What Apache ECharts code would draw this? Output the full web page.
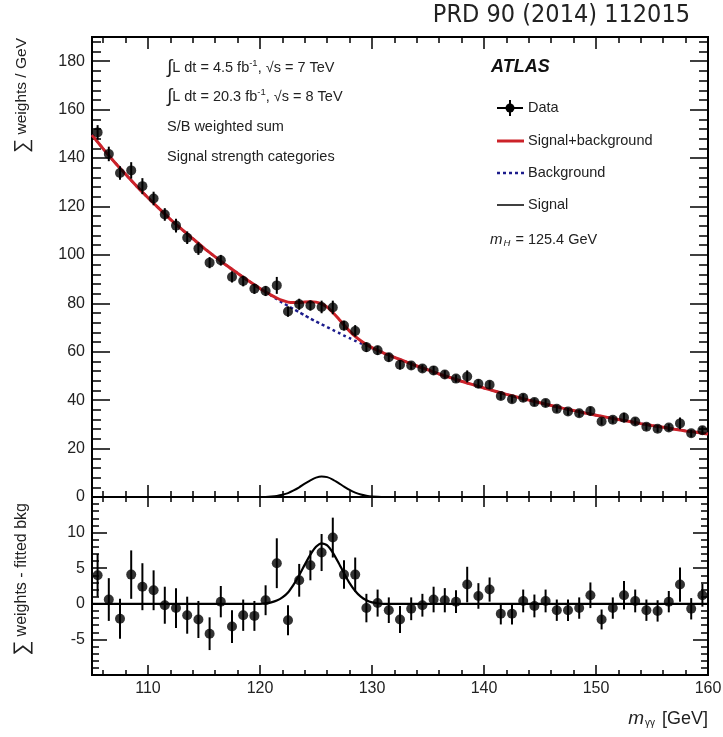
<!DOCTYPE html>
<html>
<head>
<meta charset="utf-8">
<title>Diphoton invariant mass, S/B weighted sum</title>
<script src="https://cdn.jsdelivr.net/npm/echarts@6/dist/echarts.min.js"></script>
<style>
  html, body { margin: 0; padding: 0; background: #fff; }
  #chart { width: 723px; height: 737px; }
</style>
</head>
<body>
<div id="chart"></div>
<script>
// ---- data: 1 GeV bins of m_yy ----
const dataMass = [105.5,106.5,107.5,108.5,109.5,110.5,111.5,112.5,113.5,114.5,
  115.5,116.5,117.5,118.5,119.5,120.5,121.5,122.5,123.5,124.5,
  125.5,126.5,127.5,128.5,129.5,130.5,131.5,132.5,133.5,134.5,
  135.5,136.5,137.5,138.5,139.5,140.5,141.5,142.5,143.5,144.5,
  145.5,146.5,147.5,148.5,149.5,150.5,151.5,152.5,153.5,154.5,
  155.5,156.5,157.5,158.5,159.5];

// weighted events per GeV
const topData = [150.6,141.7,133.8,134.9,128.4,123.3,116.7,112.1,107.1,102.6,
  96.8,97.8,90.9,89.2,86.0,85.1,87.4,76.6,79.6,79.1,
  78.5,78.3,70.8,68.6,61.9,60.6,57.7,54.6,54.3,53.1,
  52.3,50.6,48.9,49.8,46.8,46.4,41.7,40.4,41.0,39.2,
  38.8,36.4,35.3,34.6,35.5,31.2,31.9,32.8,31.2,29.0,
  28.2,28.7,30.4,26.3,27.6];

// weighted events minus fitted background
const residual = [4.0,0.6,-2.1,4.1,2.4,1.9,-0.2,-0.6,-1.6,-2.2,
  -4.2,0.3,-3.2,-1.6,-1.7,0.5,5.7,-2.3,3.3,5.4,
  7.2,9.3,4.1,4.1,-0.6,0.1,-0.9,-2.2,-0.7,-0.2,
  0.6,0.5,0.3,2.7,1.1,2.0,-1.4,-1.4,0.4,-0.3,
  0.4,-0.9,-0.9,-0.6,1.2,-2.2,-0.6,1.2,0.4,-0.9,
  -1.0,0.3,2.7,-0.7,1.2];

// statistical uncertainty per bin
const statErr = [3.0,3.0,2.8,3.4,3.3,2.8,2.6,2.8,2.6,2.6,
  2.3,2.2,2.3,2.2,2.1,2.1,3.5,2.1,2.3,2.1,
  2.6,2.8,2.0,2.4,2.0,1.9,1.8,1.9,1.6,1.6,
  1.8,1.7,1.6,2.5,1.8,1.7,1.5,1.5,1.6,1.6,
  1.6,1.5,1.5,1.5,1.8,1.4,1.5,2.0,1.6,1.5,
  1.5,1.5,2.4,1.5,1.6];

// ---- fitted curves ----
const curveMass = [105,106,107,108,109,110,111,112,113,114,115,116,117,118,119,
  120,120.5,121,121.5,122,122.5,123,123.5,124,124.5,125,125.5,126,126.5,
  127,127.5,128,128.5,129,129.5,130,130.5,131,
  132,133,134,135,136,137,138,139,140,141,142,143,144,145,146,147,148,149,
  150,151,152,153,154,155,156,157,158,159,160];

const bkgCurve = [149.5,143.8,138.4,133.3,128.3,123.6,119.1,114.7,110.6,106.7,102.8,99.2,95.7,92.4,89.2,
  86.1,84.6,83.2,81.7,80.3,78.9,77.6,76.3,75.0,73.7,72.5,71.3,70.2,69.0,
  67.9,66.7,65.6,64.5,63.5,62.5,61.5,60.5,59.5,
  57.7,55.9,54.1,52.5,50.8,49.3,47.8,46.4,45.0,43.7,42.4,41.2,40.0,38.9,37.8,36.7,35.7,34.7,
  33.8,32.9,32.0,31.2,30.3,29.5,28.8,28.0,27.3,26.7,26.0];

const sbCurve = [149.5,143.8,138.4,133.3,128.3,123.6,119.1,114.7,110.6,106.7,102.8,99.2,95.7,92.4,89.2,
  86.1,84.7,83.4,82.2,81.2,80.5,80.3,80.3,80.5,80.6,80.5,79.8,78.4,76.2,
  73.7,71.0,68.5,66.3,64.5,63.0,61.7,60.6,59.5,
  57.7,55.9,54.1,52.5,50.8,49.3,47.8,46.4,45.0,43.7,42.4,41.2,40.0,38.9,37.8,36.7,35.7,34.7,
  33.8,32.9,32.0,31.2,30.3,29.5,28.8,28.0,27.3,26.7,26.0];

const sigCurve = [0,0,0,0,0,0,0,0,0,0,0,0,0,0,0,
  0.0,0.05,0.2,0.45,0.9,1.6,2.7,4.0,5.5,6.9,8.0,8.5,8.2,7.2,
  5.8,4.3,2.9,1.8,1.0,0.5,0.2,0.08,0.0,
  0,0,0,0,0,0,0,0,0,0,0,0,0,0,0,0,0,0,
  0,0,0,0,0,0,0,0,0,0,0];

// ---- axes ----
const massTicks = [110, 120, 130, 140, 150, 160];
const topTicks = [0, 20, 40, 60, 80, 100, 120, 140, 160, 180];
const lowTicks = [-10, -5, 0, 5, 10, 15];
const lowLabels = [-5, 0, 5, 10];

function minorTicks(lo, hi, step, major) {
  const out = [];
  for (let v = lo; v <= hi + 1e-9; v += step) {
    const r = Math.round(v * 1000) / 1000;
    if (Math.abs(r / major - Math.round(r / major)) > 1e-6) out.push(r);
  }
  return out;
}
const massMinor = minorTicks(106, 158, 2, 10);
const topMinor = minorTicks(4, 188, 4, 20);
const lowMinor = minorTicks(-9, 14, 1, 5);

const FONT = "'Liberation Sans', Arial, Helvetica, sans-serif";
const INK = '#222';

function axis(gridIndex, position, min, max, ticks, len, labels, labelMargin) {
  return {
    type: 'value', gridIndex, position, min, max,
    axisLine: { show: true, onZero: false, lineStyle: { color: '#000', width: 2 } },
    axisTick: { show: true, inside: true, length: len, customValues: ticks,
                lineStyle: { color: '#000', width: 1.5 } },
    axisLabel: labels ? {
      show: true, customValues: labels, margin: labelMargin,
      color: INK, fontFamily: FONT, fontSize: 16,
      showMinLabel: true, showMaxLabel: true, hideOverlap: false
    } : { show: false },
    splitLine: { show: false },
    minorTick: { show: false },
    minorSplitLine: { show: false }
  };
}

const xAxes = [
  axis(0, 'bottom', 105, 160, massTicks, 12, null),
  axis(0, 'bottom', 105, 160, massMinor, 6, null),
  axis(0, 'top', 105, 160, massTicks, 12, null),
  axis(0, 'top', 105, 160, massMinor, 6, null),
  axis(1, 'bottom', 105, 160, massTicks, 10, massTicks, 6),
  axis(1, 'bottom', 105, 160, massMinor, 5, null),
  axis(1, 'top', 105, 160, massTicks, 10, null),
  axis(1, 'top', 105, 160, massMinor, 5, null)
];
const yAxes = [
  axis(0, 'left', 0, 190, topTicks, 18, topTicks, 7),
  axis(0, 'left', 0, 190, topMinor, 9, null),
  axis(0, 'right', 0, 190, topTicks, 18, null),
  axis(0, 'right', 0, 190, topMinor, 9, null),
  axis(1, 'left', -10, 15, lowTicks, 15, lowLabels, 7),
  axis(1, 'left', -10, 15, lowMinor, 7, null),
  axis(1, 'right', -10, 15, lowTicks, 15, null),
  axis(1, 'right', -10, 15, lowMinor, 7, null)
];

// ---- series helpers ----
function pairs(xs, ys) { return xs.map((x, i) => [x, ys[i]]); }

function curve(name, xi, yi, ys, color, width, type, z) {
  return {
    name, type: 'line', xAxisIndex: xi, yAxisIndex: yi,
    data: pairs(curveMass, ys), showSymbol: false, symbol: 'none',
    smooth: 0.2, clip: true, z, silent: true,
    lineStyle: { color, width, type, cap: 'butt' }
  };
}

function errorBars(xi, yi, vals) {
  return {
    type: 'custom', xAxisIndex: xi, yAxisIndex: yi, z: 6, silent: true, clip: true,
    encode: { x: 0, y: [1, 2] },
    data: dataMass.map((m, i) => [m, vals[i] - statErr[i], vals[i] + statErr[i]]),
    renderItem(params, api) {
      const a = api.coord([api.value(0), api.value(1)]);
      const b = api.coord([api.value(0), api.value(2)]);
      return { type: 'line', shape: { x1: a[0], y1: a[1], x2: b[0], y2: b[1] },
               style: { stroke: '#000', lineWidth: 2 } };
    }
  };
}

function points(name, xi, yi, vals) {
  return {
    name, type: 'scatter', xAxisIndex: xi, yAxisIndex: yi, z: 7, silent: true,
    data: pairs(dataMass, vals), symbol: 'circle', symbolSize: 10,
    itemStyle: { color: '#000' }
  };
}

// ---- text ----
const txt = { fontFamily: FONT, fontSize: 14.5, fill: INK };
const lumiRich = {
  int: { fontFamily: FONT, fontSize: 19, fill: INK },
  t: { fontFamily: FONT, fontSize: 14.5, fill: INK },
  sup: { fontFamily: FONT, fontSize: 9.5, fill: INK, padding: [0, 0, 9, 0] }
};

const graphic = [
  { type: 'text', x: 690, y: 15,
    style: { text: 'PRD 90 (2014) 112015', fontFamily: "'DejaVu Sans Condensed', 'Liberation Sans Narrow', " + FONT,
             fontSize: 25, fill: INK, align: 'right', verticalAlign: 'middle' } },

  { type: 'text', x: 167, y: 68,
    style: { text: '{int|∫}{t|L dt = 4.5 fb}{sup|-1}{t|, √s = 7 TeV}', rich: lumiRich,
             align: 'left', verticalAlign: 'middle' } },
  { type: 'text', x: 167, y: 97,
    style: { text: '{int|∫}{t|L dt = 20.3 fb}{sup|-1}{t|, √s = 8 TeV}', rich: lumiRich,
             align: 'left', verticalAlign: 'middle' } },
  { type: 'text', x: 167, y: 127,
    style: Object.assign({ text: 'S/B weighted sum', align: 'left', verticalAlign: 'middle' }, txt) },
  { type: 'text', x: 167, y: 157,
    style: Object.assign({ text: 'Signal strength categories', align: 'left', verticalAlign: 'middle' }, txt) },

  { type: 'text', x: 491, y: 67,
    style: { text: 'ATLAS', fontFamily: FONT, fontSize: 18, fontWeight: 'bold', fontStyle: 'italic',
             fill: '#111', align: 'left', verticalAlign: 'middle' } },

  // legend: Data
  { type: 'line', shape: { x1: 497, y1: 108, x2: 523, y2: 108 }, style: { stroke: '#000', lineWidth: 2 } },
  { type: 'line', shape: { x1: 510, y1: 100, x2: 510, y2: 116 }, style: { stroke: '#000', lineWidth: 2 } },
  { type: 'circle', shape: { cx: 510, cy: 108, r: 4.5 }, style: { fill: '#000' } },
  { type: 'text', x: 528, y: 108,
    style: Object.assign({ text: 'Data', align: 'left', verticalAlign: 'middle' }, txt) },
  // legend: Signal+background
  { type: 'line', shape: { x1: 497, y1: 141, x2: 524, y2: 141 }, style: { stroke: '#cc2229', lineWidth: 3 } },
  { type: 'text', x: 528, y: 141,
    style: Object.assign({ text: 'Signal+background', align: 'left', verticalAlign: 'middle' }, txt) },
  // legend: Background
  { type: 'line', shape: { x1: 497, y1: 173, x2: 524, y2: 173 },
    style: { stroke: '#1c1c8c', lineWidth: 2.5, lineDash: [3, 3] } },
  { type: 'text', x: 528, y: 173,
    style: Object.assign({ text: 'Background', align: 'left', verticalAlign: 'middle' }, txt) },
  // legend: Signal
  { type: 'line', shape: { x1: 497, y1: 205, x2: 524, y2: 205 }, style: { stroke: '#000', lineWidth: 1.5 } },
  { type: 'text', x: 528, y: 205,
    style: Object.assign({ text: 'Signal', align: 'left', verticalAlign: 'middle' }, txt) },

  { type: 'text', x: 490, y: 240,
    style: { text: '{m|m}{sub|H}{t| = 125.4 GeV}', align: 'left', verticalAlign: 'middle',
             rich: {
               m: { fontFamily: FONT, fontSize: 15, fontStyle: 'italic', fill: INK },
               sub: { fontFamily: FONT, fontSize: 9.5, fontStyle: 'italic', fill: INK, padding: [7, 1, 0, 1] },
               t: { fontFamily: FONT, fontSize: 14.5, fill: INK }
             } } },

  // axis titles
  { type: 'text', x: 22, y: 38, rotation: Math.PI / 2,
    style: { text: '{s|∑}{t| weights / GeV}', align: 'right', verticalAlign: 'middle',
             rich: { s: { fontFamily: FONT, fontSize: 20, fill: INK },
                     t: { fontFamily: FONT, fontSize: 15.5, fill: INK } } } },
  { type: 'text', x: 22, y: 503, rotation: Math.PI / 2,
    style: { text: '{s|∑}{t| weights - fitted bkg}', align: 'right', verticalAlign: 'middle',
             rich: { s: { fontFamily: FONT, fontSize: 21, fill: INK },
                     t: { fontFamily: FONT, fontSize: 16, fill: INK } } } },
  { type: 'text', x: 708, y: 719,
    style: { text: '{m|m}{sub|γγ}{t| [GeV]}', align: 'right', verticalAlign: 'middle',
             rich: {
               m: { fontFamily: FONT, fontSize: 19, fontStyle: 'italic', fill: INK },
               sub: { fontFamily: FONT, fontSize: 10, fill: INK, padding: [8, 2, 0, 1] },
               t: { fontFamily: FONT, fontSize: 18, fill: INK }
             } } }
];

const chart = echarts.init(document.getElementById('chart'), null, { renderer: 'canvas' });
chart.setOption({
  animation: false,
  backgroundColor: '#fff',
  grid: [
    { left: 92, right: 15, top: 37, height: 460, outerBoundsMode: 'none', show: false },
    { left: 92, right: 15, top: 497, height: 178, outerBoundsMode: 'none', show: false }
  ],
  xAxis: xAxes,
  yAxis: yAxes,
  series: [
    curve('Background', 0, 0, bkgCurve, '#1c1c8c', 2.5, [3, 3], 2),
    curve('Signal+background', 0, 0, sbCurve, '#cc2229', 3, 'solid', 3),
    curve('Signal', 0, 0, sigCurve, '#000', 2, 'solid', 3),
    errorBars(0, 0, topData),
    points('Data', 0, 0, topData),
    curve('Signal', 4, 4, sigCurve, '#000', 2.2, 'solid', 3),
    errorBars(4, 4, residual),
    points('Data', 4, 4, residual)
  ],
  graphic
});
</script>
</body>
</html>
